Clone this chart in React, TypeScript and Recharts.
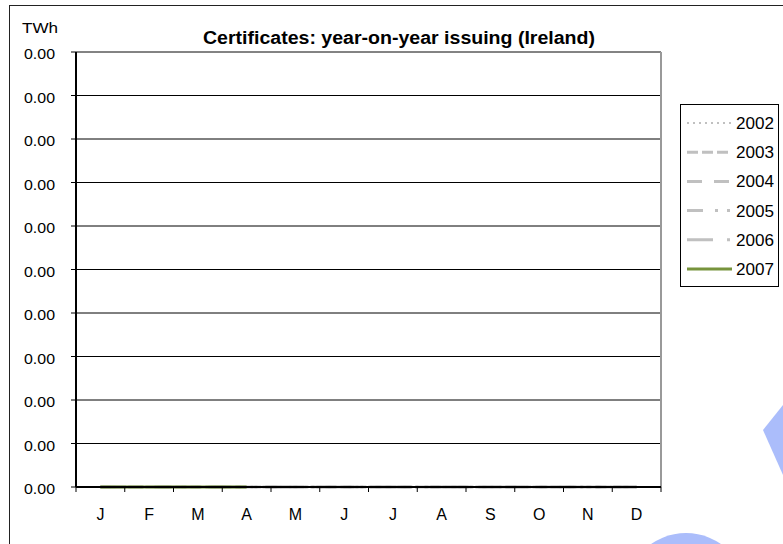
import { LineChart, Line, XAxis, YAxis, CartesianGrid, Legend, ReferenceLine } from "recharts";

const months = ["J", "F", "M", "A", "M", "J", "J", "A", "S", "O", "N", "D"];
const years = ["2002", "2003", "2004", "2005", "2006", "2007"];

// values in TWh (all round to 0.00)
const y2002 = [0, 0, 0, 0, 0, 0, 0, 0, 0, 0, 0, 0];
const y2003 = [0, 0, 0, 0, 0, 0, 0, 0, 0, 0, 0, 0];
const y2004 = [0, 0, 0, 0, 0, 0, 0, 0, 0, 0, 0, 0];
const y2005 = [0, 0, 0, 0, 0, 0, 0, 0, 0, 0, 0, 0];
const y2006 = [0, 0, 0, 0, 0, 0, 0, 0, 0, 0, 0, 0];
const y2007 = [0, 0, 0, 0, null, null, null, null, null, null, null, null];

const yTicks = [0, 0.0001, 0.0002, 0.0003, 0.0004, 0.0005, 0.0006, 0.0007, 0.0008, 0.0009, 0.001];

const seriesValues = [y2002, y2003, y2004, y2005, y2006, y2007];
const styles: Record<string, { stroke: string; dash?: string; width: number }> = {
  "2002": { stroke: "#c0c0c0", dash: "2 4", width: 2 },
  "2003": { stroke: "#c0c0c0", dash: "11 4", width: 3 },
  "2004": { stroke: "#c0c0c0", dash: "15 12", width: 3 },
  "2005": { stroke: "#c0c0c0", dash: "16 12 3 9 3 12", width: 3 },
  "2006": { stroke: "#c0c0c0", dash: "26 14 3 14", width: 3 },
  "2007": { stroke: "#77933c", width: 3 },
};

const data = months.map((m, i) => {
  const row: any = { x: i + 0.5, m };
  years.forEach((y, k) => (row[y] = seriesValues[k][i]));
  return row;
});

const xTicks: number[] = [];
for (let i = 0; i <= months.length * 2; i++) xTicks.push(i / 2);

const font = "'Liberation Sans', Arial, sans-serif";

const XTick = (props: any) => {
  const { x, y, payload } = props;
  const v = payload.value;
  if (Number.isInteger(v)) {
    return <line x1={x} x2={x} y1={y - 5} y2={y} stroke="#000" strokeWidth={1} />;
  }
  return (
    <text x={x} y={y + 28} textAnchor="middle" fontSize={16} fill="#000" fontFamily={font}>
      {months[Math.floor(v)]}
    </text>
  );
};

const YTick = (props: any) => {
  const { x, y, payload } = props;
  return (
    <text
      x={x}
      y={y + 7}
      textAnchor="end"
      fontSize={14}
      fill="#000"
      fontFamily={font}
      textLength={31}
      lengthAdjust="spacingAndGlyphs"
    >
      {payload.value.toFixed(2)}
    </text>
  );
};

const LegendBox = () => (
  <svg width={100} height={183} style={{ display: "block" }}>
    <rect x={0.5} y={0.5} width={98} height={182} fill="#fff" stroke="#000" />
    {years.map((y, i) => {
      const s = styles[y];
      const cy = 19 + i * 29.2;
      return (
        <g key={y}>
          <line x1={7} x2={52} y1={cy} y2={cy} stroke={s.stroke} strokeWidth={s.width} strokeDasharray={s.dash} />
          <text
            x={56}
            y={cy + 6}
            fontSize={16}
            fill="#000"
            fontFamily={font}
            textLength={38}
            lengthAdjust="spacingAndGlyphs"
          >
            {y}
          </text>
        </g>
      );
    })}
  </svg>
);

export default function App() {
  return (
    <div style={{ position: "absolute", left: 0, top: 0, width: 783, height: 544, overflow: "hidden", background: "#fff" }}>
      <div style={{ position: "absolute", left: 9, top: 5, width: 800, height: 600, border: "1px solid #222" }} />
      <svg width={783} height={544} style={{ position: "absolute", left: 0, top: 0 }}>
        <polygon points="763,430 783,405 783,475" fill="#abbdfb" />
        <circle cx={686} cy={594} r={61} fill="#abbdfb" />
        <text x={22} y={33} fontSize={15} fontFamily={font} fill="#000" textLength={36} lengthAdjust="spacingAndGlyphs">
          TWh
        </text>
        <text
          x={399}
          y={44}
          textAnchor="middle"
          fontSize={18}
          fontWeight="bold"
          fontFamily={font}
          fill="#000"
          textLength={392}
          lengthAdjust="spacingAndGlyphs"
        >
          Certificates: year-on-year issuing (Ireland)
        </text>
      </svg>
      <div style={{ position: "absolute", left: 0, top: 0 }}>
        <LineChart width={783} height={544} data={data} margin={{ top: 52, right: 122, left: 0, bottom: 27 }}>
          <CartesianGrid vertical={false} stroke="#000" strokeWidth={1} />
          <XAxis
            type="number"
            dataKey="x"
            domain={[0, 12]}
            ticks={xTicks}
            interval={0}
            tick={<XTick />}
            tickLine={false}
            tickSize={5}
            tickMargin={0}
            height={30}
            axisLine={{ stroke: "#000", strokeWidth: 2 }}
          />
          <YAxis
            domain={[0, 0.001]}
            ticks={yTicks}
            interval={0}
            width={76}
            tickSize={5}
            tickMargin={16}
            tick={<YTick />}
            tickLine={{ stroke: "#000" }}
            axisLine={{ stroke: "#000", strokeWidth: 2 }}
          />
          <ReferenceLine y={0.001} stroke="#888" strokeWidth={1} />
          <ReferenceLine x={12} stroke="#999" strokeWidth={2} />
          {years.map((y) => (
            <Line
              key={y}
              type="linear"
              dataKey={y}
              stroke={styles[y].stroke}
              strokeWidth={styles[y].width}
              strokeDasharray={styles[y].dash}
              dot={false}
              activeDot={false}
              isAnimationActive={false}
            />
          ))}
          <Legend
            layout="vertical"
            align="center"
            verticalAlign="middle"
            wrapperStyle={{ left: 680, top: 104, width: 100 }}
            content={<LegendBox />}
          />
        </LineChart>
      </div>
    </div>
  );
}
